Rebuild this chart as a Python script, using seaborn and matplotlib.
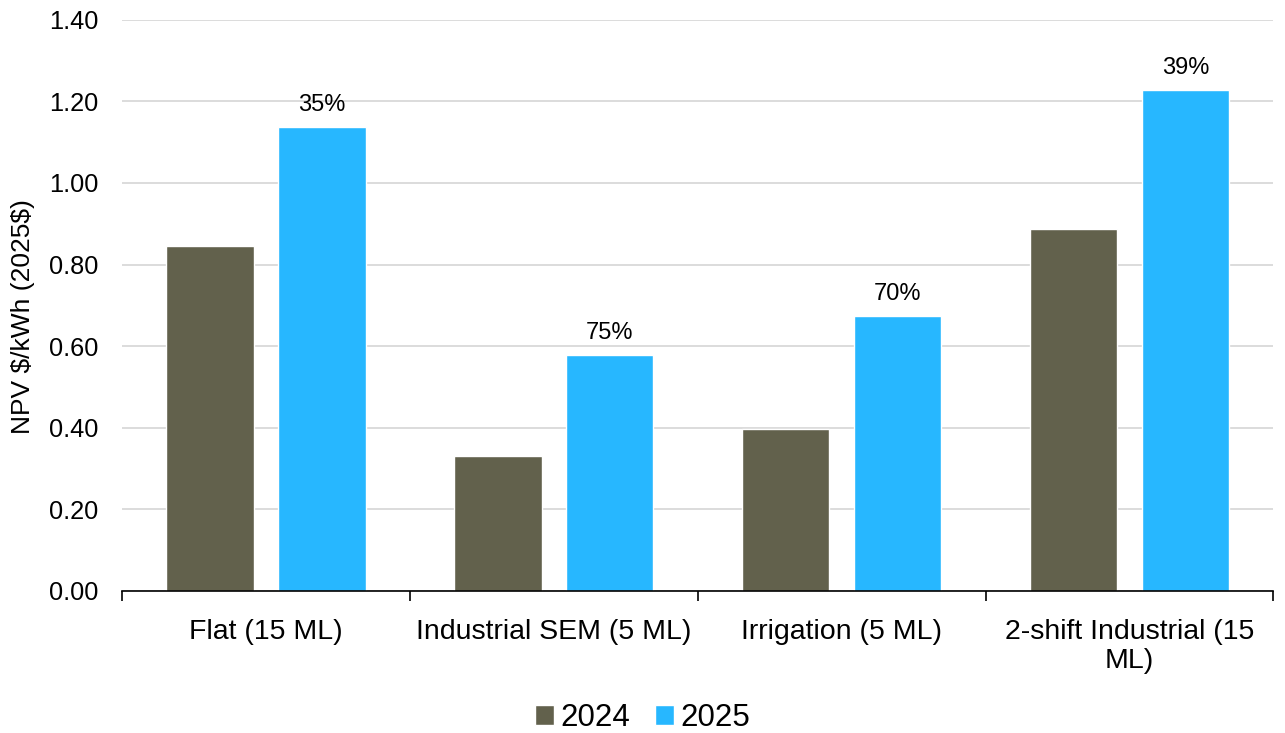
import pandas as pd
import numpy as np
import seaborn as sns
import matplotlib.pyplot as plt

sns.set_theme(style="white")
plt.rcParams['font.family'] = ['Liberation Sans', 'DejaVu Sans']
plt.rcParams['text.color'] = 'black'
plt.rcParams['axes.labelcolor'] = 'black'
plt.rcParams['xtick.color'] = 'black'
plt.rcParams['ytick.color'] = 'black'

# data
categories = ["Flat (15 ML)", "Industrial SEM (5 ML)", "Irrigation (5 ML)",
              "2-shift Industrial (15\nML)"]
npv_2024 = [0.846, 0.331, 0.397, 0.887]
npv_2025 = [1.137, 0.578, 0.674, 1.228]
pct_labels = ["35%", "75%", "70%", "39%"]
years = ["2024", "2025"]
colors = ["#62614C", "#27B7FF"]

df = pd.DataFrame({
    "Category": categories * 2,
    "Year": [years[0]] * 4 + [years[1]] * 4,
    "NPV": npv_2024 + npv_2025,
})

fig = plt.figure(figsize=(12.85, 7.33), dpi=100)
ax = fig.add_axes([0.095, 0.194, 0.896, 0.779])

sns.barplot(data=df, x="Category", y="NPV", hue="Year", order=categories,
            hue_order=years, palette=colors, width=0.778, gap=0.22,
            saturation=1, errorbar=None, ax=ax)

# percentage change above the 2025 bars
ax.bar_label(ax.containers[1], labels=pct_labels, padding=8, fontsize=17)

ax.set_ylim(0, 1.4)
yt = np.arange(0, 1.41, 0.2)
ax.set_yticks(yt)
ax.set_yticklabels([f"{v:.2f}" for v in yt], fontsize=18.3)
ax.yaxis.grid(True, color="#D9D9D9", linewidth=1.3)
ax.set_axisbelow(True)
ax.set_xlim(-0.5, 3.5)

# category boundary ticks on x axis
ax.set_xticks(np.arange(-0.5, 4, 1), minor=False)
ax.set_xticklabels([])
ax.set_xticks(np.arange(0, 4), minor=True)
ax.set_xticklabels(categories, minor=True, fontsize=20.5, linespacing=1.15)
ax.tick_params(axis="x", which="major", length=7, width=1.2, color="black",
               direction="out", bottom=True)
ax.tick_params(axis="x", which="minor", length=0, pad=20)
ax.tick_params(axis="y", length=0, pad=17)

for s in ["top", "right", "left"]:
    ax.spines[s].set_visible(False)
ax.spines["bottom"].set_color("black")
ax.spines["bottom"].set_linewidth(1.2)

ax.set_xlabel("")
ax.set_ylabel(r"NPV \$/kWh (2025\$)", fontsize=19)
ax.yaxis.set_label_coords(-0.076, 0.48)

handles, labels = ax.get_legend_handles_labels()
ax.legend_.remove()
fig.legend(handles, labels, loc="center", bbox_to_anchor=(0.5, 0.021),
           ncol=2, frameon=False, fontsize=22.5, handlelength=0.6,
           handleheight=0.6, handletextpad=0.2, columnspacing=0.8)

fig.savefig("out.png", dpi=100)
